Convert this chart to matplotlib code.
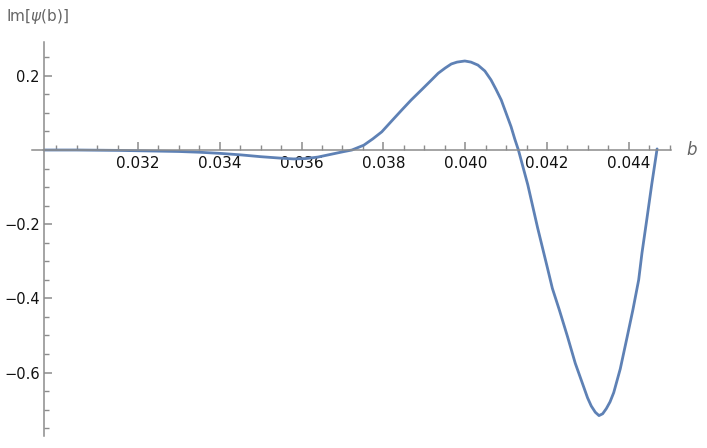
import matplotlib
matplotlib.use("Agg")
import matplotlib.pyplot as plt
from matplotlib.ticker import MultipleLocator, FixedLocator

# values
b_vals = [0.0297, 0.0305, 0.0315, 0.0325, 0.0330, 0.0335, 0.0340, 0.0345,
          0.0350, 0.0355, 0.0358, 0.0361, 0.0364, 0.0367, 0.0370, 0.03723,
          0.03752, 0.03774, 0.03796, 0.03820, 0.03845, 0.03868, 0.03893,
          0.03915, 0.03934, 0.03951, 0.03966, 0.03980, 0.03999, 0.04014,
          0.04031, 0.04048, 0.04063, 0.04075, 0.04088, 0.04099, 0.04112,
          0.04121, 0.04130, 0.04153, 0.04177, 0.04201, 0.04213, 0.04230,
          0.04250, 0.04269, 0.04290, 0.04299, 0.04308, 0.04318, 0.04327,
          0.04336, 0.04345, 0.04354, 0.04363, 0.04379, 0.04396, 0.04410,
          0.04424, 0.04432, 0.04444, 0.04456, 0.04469]
im_psi = [0.000, 0.000, -0.001, -0.003, -0.004, -0.006, -0.009, -0.013,
          -0.018, -0.022, -0.024, -0.023, -0.019, -0.012, -0.005, 0.000,
          0.013, 0.030, 0.049, 0.078, 0.108, 0.135, 0.162,
          0.186, 0.207, 0.221, 0.232, 0.237, 0.240, 0.237,
          0.229, 0.213, 0.189, 0.164, 0.135, 0.102, 0.063,
          0.030, 0.000, -0.094, -0.210, -0.318, -0.373, -0.431,
          -0.503, -0.575, -0.640, -0.668, -0.690, -0.707, -0.716,
          -0.711, -0.697, -0.679, -0.654, -0.590, -0.503, -0.430,
          -0.350, -0.278, -0.186, -0.092, 0.003]
x_major = [0.032, 0.034, 0.036, 0.038, 0.040, 0.042, 0.044]
x_labels = ["0.032", "0.034", "0.036", "0.038", "0.040", "0.042", "0.044"]
y_major = [-0.6, -0.4, -0.2, 0.2]
y_labels = ["\u22120.6", "\u22120.4", "\u22120.2", "0.2"]

fig = plt.figure(figsize=(7.07, 4.48), dpi=100)
ax = fig.add_axes([32 / 707, 1 - 436 / 448, (671 - 32) / 707, (436 - 41.7) / 448])

ax.plot(b_vals, im_psi, color="#5E81B5", lw=2.0, solid_capstyle="round",
        solid_joinstyle="round", clip_on=False)

ax.set_xlim(0.02941, 0.04503)
ax.set_ylim(-0.771, 0.292)

axis_col = "#8c8c8c"
for s in ["top", "right"]:
    ax.spines[s].set_visible(False)
ax.spines["left"].set_position(("data", 0.0297))
ax.spines["bottom"].set_position(("data", 0.0))
ax.spines["left"].set_color(axis_col)
ax.spines["bottom"].set_color(axis_col)
ax.spines["left"].set_linewidth(1.1)
ax.spines["bottom"].set_linewidth(1.1)

ax.xaxis.set_major_locator(FixedLocator(x_major))
ax.set_xticklabels(x_labels)
ax.xaxis.set_minor_locator(FixedLocator([0.0300 + 0.0005 * i for i in range(31)]))
ax.yaxis.set_major_locator(FixedLocator(y_major + [0.0]))
ax.set_yticklabels(y_labels + [""])
ax.yaxis.set_minor_locator(MultipleLocator(0.05))

ax.tick_params(axis="x", which="major", direction="in", length=6, width=1.1,
               color=axis_col, labelsize=11, pad=4, labelcolor="#111111")
ax.tick_params(axis="x", which="minor", direction="in", length=3.5, width=1.0,
               color=axis_col)
ax.tick_params(axis="y", which="major", direction="in", length=6, width=1.1,
               color=axis_col, labelsize=10.5, pad=3, labelcolor="#111111")
ax.tick_params(axis="y", which="minor", direction="in", length=3.5, width=1.0,
               color=axis_col)

fig.text(6 / 707, 1 - 16 / 448, r"Im[$\psi$(b)]", fontsize=11, color="#666666",
         ha="left", va="center")
fig.text(692 / 707, 1 - 150 / 448, "b", fontsize=12, style="italic",
         color="#666666", ha="center", va="center")

fig.savefig("out.png", dpi=100)
